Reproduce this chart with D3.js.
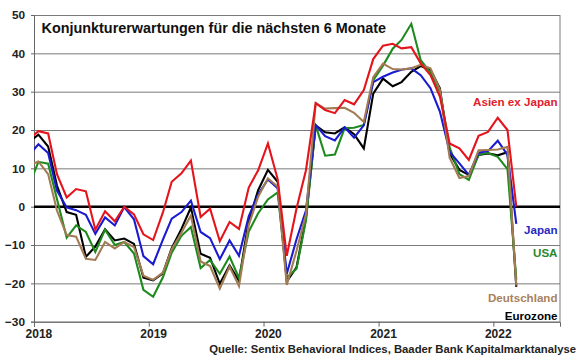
<!DOCTYPE html>
<html>
<head>
<meta charset="utf-8">
<script src="https://cdn.jsdelivr.net/npm/d3@7"></script>
<style>
  body { margin: 0; background: #fff; }
  svg { display: block; font-family: Arial, "Liberation Sans", sans-serif; }
</style>
</head>
<body>
<div class="graph"></div>
<script>
// monthly survey values, Dec 2017 .. Mar 2022
const months = [
  "2017-12",
  "2018-01","2018-02","2018-03","2018-04","2018-05","2018-06","2018-07","2018-08","2018-09","2018-10","2018-11","2018-12",
  "2019-01","2019-02","2019-03","2019-04","2019-05","2019-06","2019-07","2019-08","2019-09","2019-10","2019-11","2019-12",
  "2020-01","2020-02","2020-03","2020-04","2020-05","2020-06","2020-07","2020-08","2020-09","2020-10","2020-11","2020-12",
  "2021-01","2021-02","2021-03","2021-04","2021-05","2021-06","2021-07","2021-08","2021-09","2021-10","2021-11","2021-12",
  "2022-01","2022-02","2022-03"
];
const asien = [17.5,
  19.7, 19.1, 8.5, 2.4, 4.6, 4.0, -6.0, -1.2, -3.8, 0, -2.0, -7.2,
  -8.7, -1.5, 6.5, 8.7, 12.0, -2.7, -0.5, -9.0, -4.0, -5.8, 5.0, 9.5,
  16.5, 7.2, -12.8, -0.5, 9.5, 27.0, 25.2, 24.4, 27.8, 26.7, 30.4, 38.5,
  42.0, 42.5, 41.3, 41.6, 37.4, 34.3, 28.7, 16.5, 15.2, 12.2, 18.5, 19.5,
  23.2, 20.0, 0];
const japan = [13.3,
  16.3, 14.0, 4.2, -0.2, -0.9, -2.1, -7.1, -2.8, -4.9, -0.1, -3.3, -12.9,
  -15.0, -8.6, -3.1, -1.4, 1.6, -6.6, -8.2, -13.7, -8.8, -12.8, -2.5, 3.2,
  7.1, 4.8, -17.5, -8.5, -1.0, 21.3, 18.4, 17.3, 20.7, 18.0, 21.2, 32.5,
  33.9, 35.0, 35.7, 36.1, 34.3, 30.9, 24.8, 14.3, 11.3, 8.3, 14.1, 14.5,
  17.2, 13.5, -4.5];
const usa = [5.3,
  11.7, 11.2, 2.0, -8.1, -4.9, -6.6, -11.8, -6.0, -10.0, -9.2, -12.2, -21.7,
  -23.5, -18.4, -12.0, -7.6, -5.3, -16.0, -13.9, -17.5, -13.0, -18.6, -6.5, -1.7,
  1.9, 3.7, -18.5, -16.2, -3.5, 21.2, 13.3, 13.6, 20.5, 20.6, 21.3, 33.0,
  36.8, 41.2, 43.5, 47.7, 38.2, 35.0, 30.0, 15.5, 8.5, 7.0, 13.6, 14.0,
  13.0, 9.8, -19.0];
const deutschland = [10.7,
  11.8, 8.5, -1.0, -7.4, -7.8, -13.6, -13.9, -9.2, -10.9, -9.2, -10.5, -18.0,
  -19.1, -17.2, -11.1, -6.8, -2.3, -14.3, -15.5, -21.4, -15.6, -20.7, -4.8, 2.6,
  7.4, 5.2, -20.4, -11.5, -2.0, 27.0, 25.6, 25.7, 25.8, 24.5, 22.1, 33.8,
  37.3, 35.9, 35.8, 36.1, 37.0, 36.1, 30.5, 12.8, 7.5, 8.0, 14.7, 14.8,
  14.9, 15.6, -20.6];
const eurozone = [16.8,
  18.8, 15.7, 5.5, -1.4, -2.1, -13.1, -10.4, -5.9, -8.8, -8.3, -9.7, -18.5,
  -19.2, -17.4, -10.8, -5.8, -0.2, -12.3, -13.3, -20.1, -15.3, -19.3, -3.6, 4.3,
  9.6, 6.5, -19.5, -15.8, -3.0, 21.2, 19.4, 19.1, 20.7, 18.9, 15.2, 29.5,
  33.4, 31.4, 32.5, 35.2, 36.7, 35.7, 30.9, 13.9, 9.6, 8.3, 13.5, 13.9,
  13.4, 14.2, -20.9];
const years = ["2018", "2019", "2020", "2021", "2022"];
const yTicks = [-30, -20, -10, 0, 10, 20, 30, 40, 50];

const title = "Konjunkturerwartungen für die nächsten 6 Monate";
const source = "Quelle: Sentix Behavioral Indices, Baader Bank Kapitalmarktanalyse";

//setting
const width = 580;
const height = 359;
const plotLeft = 34, plotRight = 560, plotTop = 15, plotBottom = 321.7;

const parseMonth = d3.timeParse("%Y-%m");
const dates = months.map(m => d3.timeDay.offset(parseMonth(m), 14)); // mid-month
const parseYear = d3.timeParse("%Y");

const series = [
  { name: "Eurozone", values: eurozone, color: "#000000", label: "#000000", ly: 320 },
  { name: "USA", values: usa, color: "#1e8a1e", label: "#2a8a2a", ly: 257.3 },
  { name: "Japan", values: japan, color: "#1a1ad0", label: "#2828c0", ly: 234 },
  { name: "Deutschland", values: deutschland, color: "#a27b52", label: "#a88260", ly: 302.3 },
  { name: "Asien ex Japan", values: asien, color: "#e4141c", label: "#e0202a", ly: 106 }
];

//scales
const xScale = d3.scaleTime()
  .domain([new Date(2018, 0, 1), new Date(2022, 7, 1)])
  .range([plotLeft, plotRight]);
const yScale = d3.scaleLinear()
  .domain([-30, 50])
  .range([plotBottom, plotTop]);

const svg = d3.select(".graph")
  .append("svg")
  .attr("width", width)
  .attr("height", height);

svg.append("defs").append("clipPath")
  .attr("id", "plot-clip")
  .append("rect")
  .attr("x", plotLeft).attr("y", 0)
  .attr("width", plotRight - plotLeft).attr("height", height);

//gridlines
svg.append("g")
  .attr("transform", "translate(" + plotLeft + ",0)")
  .call(d3.axisLeft(yScale).tickValues(yTicks).tickSize(-(plotRight - plotLeft)).tickFormat(""))
  .call(g => g.select(".domain").remove())
  .call(g => g.selectAll("line").attr("stroke", "#7a7a7a").attr("stroke-width", 1));

//right frame
svg.append("line")
  .attr("x1", plotRight).attr("x2", plotRight)
  .attr("y1", plotTop).attr("y2", plotBottom)
  .attr("stroke", "#7a7a7a");

//y axis
svg.append("g")
  .attr("id", "y-axis")
  .attr("transform", "translate(" + plotLeft + ",0)")
  .call(d3.axisLeft(yScale).tickValues(yTicks).tickSize(3).tickPadding(6))
  .call(g => g.select(".domain").attr("stroke", "#666"))
  .call(g => g.selectAll("line").attr("stroke", "#666"))
  .call(g => g.selectAll("text")
    .style("font-family", "Arial, 'Liberation Sans', sans-serif")
    .style("font-size", "11.8px")
    .style("font-weight", "bold")
    .attr("fill", "#222"));

//x axis: ticks at year boundaries, labels on the January point
svg.append("g")
  .attr("id", "x-axis")
  .attr("transform", "translate(0," + plotBottom + ")")
  .call(d3.axisBottom(xScale).tickValues(years.map(parseYear)).tickSize(5).tickFormat(""))
  .call(g => g.select(".domain").attr("stroke", "#666"))
  .call(g => g.selectAll("line").attr("stroke", "#666"));

svg.append("g")
  .attr("transform", "translate(0," + plotBottom + ")")
  .call(d3.axisBottom(xScale)
    .tickValues(years.map(y => d3.timeDay.offset(parseYear(y), 14)))
    .tickSize(0).tickPadding(8)
    .tickFormat(d3.timeFormat("%Y")))
  .call(g => g.select(".domain").remove())
  .call(g => g.selectAll("text")
    .style("font-family", "Arial, 'Liberation Sans', sans-serif")
    .style("font-size", "12px")
    .style("font-weight", "bold")
    .attr("fill", "#222"));

//zero line
svg.append("line")
  .attr("x1", plotLeft).attr("x2", plotRight)
  .attr("y1", yScale(0)).attr("y2", yScale(0))
  .attr("stroke", "#000")
  .attr("stroke-width", 2.6);

//lines
const line = d3.line()
  .x((d, i) => xScale(dates[i]))
  .y(d => yScale(d));

svg.append("g")
  .attr("clip-path", "url(#plot-clip)")
  .selectAll("path")
  .data(series)
  .enter()
  .append("path")
  .attr("d", d => line(d.values))
  .attr("fill", "none")
  .attr("stroke", d => d.color)
  .attr("stroke-width", 2.1)
  .attr("stroke-linejoin", "miter");

//series labels
svg.selectAll(".series-label")
  .data(series)
  .enter()
  .append("text")
  .attr("class", "series-label")
  .attr("x", 557.5)
  .attr("y", d => d.ly)
  .attr("text-anchor", "end")
  .style("font-size", "11.6px")
  .style("font-weight", "bold")
  .attr("fill", d => d.label)
  .text(d => d.name);

//title
svg.append("text")
  .attr("x", 41.5)
  .attr("y", 32.7)
  .style("font-size", "14.4px")
  .style("font-weight", "bold")
  .attr("fill", "#111")
  .text(title);

//source
svg.append("text")
  .attr("x", 576)
  .attr("y", 352.5)
  .attr("text-anchor", "end")
  .style("font-size", "11.3px")
  .style("font-weight", "bold")
  .attr("fill", "#222")
  .text(source);
</script>
</body>
</html>
